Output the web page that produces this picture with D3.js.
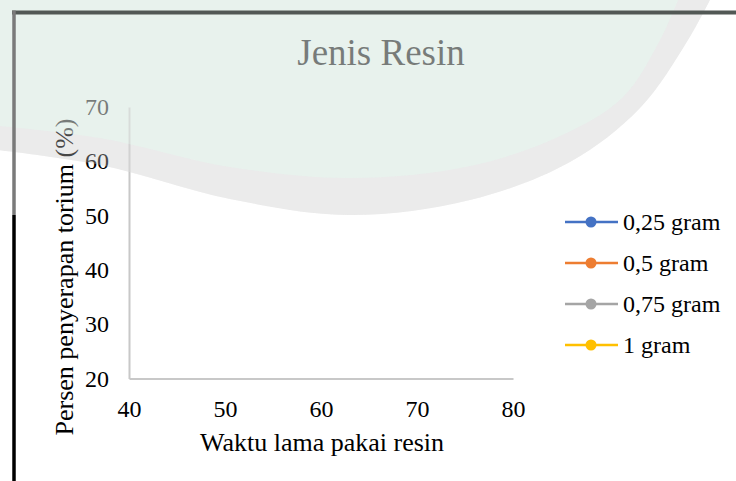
<!DOCTYPE html>
<html>
<head>
<meta charset="utf-8">
<script src="https://cdn.jsdelivr.net/npm/d3@7"></script>
<style>
  html, body { margin: 0; padding: 0; background: #fff; }
  svg { display: block; }
  text { font-family: "Liberation Serif", "Times New Roman", serif; }
</style>
</head>
<body>
<svg id="chart" width="736" height="481"></svg>
<script>
// ---- data ----
const chartTitle = "Jenis Resin";
const xTitle = "Waktu lama pakai resin";
const yTitle = "Persen penyerapan torium (%)";
const xTicks = [40, 50, 60, 70, 80];
const yTicks = [20, 30, 40, 50, 60, 70];
const seriesNames = ["0,25 gram", "0,5 gram", "0,75 gram", "1 gram"];
const seriesColors = ["#4472c4", "#ed7d31", "#a5a5a5", "#ffc000"];
// No data points are visible in the chart: every series is empty.
const xValues = [];
const values025 = [];
const values05 = [];
const values075 = [];
const values1 = [];
const seriesValues = [values025, values05, values075, values1];

const svg = d3.select("#chart");
const W = 736, H = 481;

// ---- watermark (decoration, behind) ----
const wmOuter = [[-20,148],[100,165],[230,199],[350,215],[470,200],[570,162],[640,108],[688,40],[715,-10]];
const wmInner = [[-20,124],[100,138],[230,167],[350,178],[470,166],[560,136],[622,98],[660,40],[682,-10]];
const curve = d3.line().curve(d3.curveCatmullRom);
function wmPath(pts) {
  const first = pts[0], last = pts[pts.length - 1];
  return curve(pts) + `L${last[0]},-60L${first[0]},-60Z`;
}
function drawWatermark(g, alpha) {
  g.append("path").attr("d", wmPath(wmOuter)).attr("fill", "#ebebeb").attr("fill-opacity", alpha);
  g.append("path").attr("d", wmPath(wmInner)).attr("fill", "#e8f4ee").attr("fill-opacity", alpha);
}
drawWatermark(svg.append("g"), 1);

// ---- scales ----
const x = d3.scaleLinear().domain([40, 80]).range([129, 513]);
const y = d3.scaleLinear().domain([20, 70]).range([378.5, 107]);

// ---- axes ----
const xAxis = svg.append("g").attr("transform", `translate(0,${y(20)})`)
  .call(d3.axisBottom(x).tickValues(xTicks).tickSize(0).tickPadding(21));
xAxis.select(".domain").attr("stroke", "#c8c8c8").attr("stroke-width", 2);
xAxis.selectAll("text").attr("font-size", 24).attr("fill", "#000")
  .attr("font-family", "Liberation Serif");

const yAxis = svg.append("g").attr("transform", `translate(${x(40)},0)`)
  .call(d3.axisLeft(y).tickValues(yTicks).tickSize(0).tickPadding(20));
yAxis.select(".domain").attr("stroke", "#c8c8c8").attr("stroke-width", 2);
yAxis.selectAll("text").attr("font-size", 24).attr("fill", "#000")
  .attr("font-family", "Liberation Serif");

// ---- series (lines with markers) ----
const line = d3.line().x((d, i) => x(xValues[i])).y(d => y(d));
seriesValues.forEach((vals, si) => {
  const g = svg.append("g");
  g.append("path").datum(vals).attr("d", line).attr("fill", "none")
    .attr("stroke", seriesColors[si]).attr("stroke-width", 2.5);
  g.selectAll("circle").data(vals).join("circle")
    .attr("cx", (d, i) => x(xValues[i])).attr("cy", d => y(d)).attr("r", 5)
    .attr("fill", seriesColors[si]);
});

// ---- titles ----
svg.append("text").attr("x", 381).attr("y", 65).attr("text-anchor", "middle")
  .attr("font-size", 37).attr("fill", "#000").text(chartTitle);
svg.append("text").attr("x", 322).attr("y", 451).attr("text-anchor", "middle")
  .attr("font-size", 26).attr("fill", "#000").text(xTitle);
svg.append("text").attr("transform", "translate(73,277) rotate(-90)")
  .attr("text-anchor", "middle").attr("font-size", 26).attr("fill", "#000").text(yTitle);

// ---- legend ----
const legend = svg.append("g");
seriesNames.forEach((name, i) => {
  const cy = 222 + i * 41;
  legend.append("line").attr("x1", 565).attr("x2", 618).attr("y1", cy).attr("y2", cy)
    .attr("stroke", seriesColors[i]).attr("stroke-width", 2.5);
  legend.append("circle").attr("cx", 591).attr("cy", cy).attr("r", 5.5).attr("fill", seriesColors[i]);
  legend.append("text").attr("x", 623).attr("y", cy).attr("dy", "0.35em")
    .attr("font-size", 24).attr("fill", "#000").text(name);
});

// ---- watermark overlay (semi-transparent, on top) ----
drawWatermark(svg.append("g").attr("pointer-events", "none"), 0.3);

// ---- frame borders ----
svg.append("line").attr("x1", 12).attr("x2", W).attr("y1", 12.5).attr("y2", 12.5)
  .attr("stroke", "#525855").attr("stroke-width", 4);
svg.append("line").attr("x1", 14).attr("x2", 14).attr("y1", 10.5).attr("y2", 215)
  .attr("stroke", "#7a7a7a").attr("stroke-width", 3.5);
svg.append("line").attr("x1", 14).attr("x2", 14).attr("y1", 215).attr("y2", H)
  .attr("stroke", "#000").attr("stroke-width", 3.5);
</script>
</body>
</html>
